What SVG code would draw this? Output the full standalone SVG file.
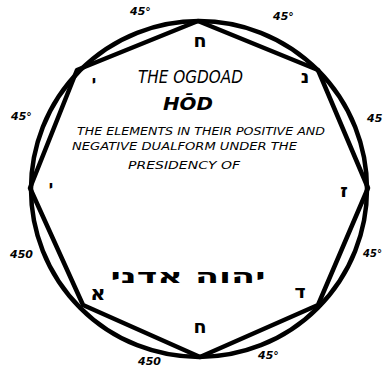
<svg xmlns="http://www.w3.org/2000/svg" width="383" height="368" viewBox="0 0 383 368">
<style>
.ln{fill:none;stroke:#000;stroke-width:4.5;stroke-linejoin:round}
.deg{font-family:"DejaVu Sans",sans-serif;font-style:italic;font-weight:bold;font-size:11px;fill:#000}
.hand{font-family:"DejaVu Sans",sans-serif;font-style:italic;fill:#000}
.heb{font-family:"DejaVu Sans","Liberation Sans",sans-serif;font-weight:bold;fill:#000}
</style>
<rect width="383" height="368" fill="#fff"/>
<g id="connectors">
<circle class="ln" cx="199" cy="189" r="168"/>
<polygon class="ln" points="198,21 318,70 368,188 318,305 200,357 83,305 30,188 77,70"/>
</g>
<g id="angles">
<text class="deg" x="130" y="15">45°</text>
<text class="deg" x="273" y="20">45°</text>
<text class="deg" x="11" y="120">45°</text>
<text class="deg" x="367" y="122">45</text>
<text class="deg" x="10" y="258">450</text>
<text class="deg" x="363" y="257" textLength="19" lengthAdjust="spacingAndGlyphs">45°</text>
<text class="deg" x="138" y="365">450</text>
<text class="deg" x="258" y="359">45°</text>
</g>
<g id="title">
<text class="hand" x="138" y="83" font-size="17" textLength="105" lengthAdjust="spacingAndGlyphs">THE OGDOAD</text>
<text class="hand" x="163" y="110" font-size="17" font-weight="bold" textLength="50" lengthAdjust="spacingAndGlyphs">HŌD</text>
<text class="hand" x="77" y="135" font-size="11" textLength="248" lengthAdjust="spacingAndGlyphs">THE ELEMENTS IN THEIR POSITIVE AND</text>
<text class="hand" x="72" y="150" font-size="11" textLength="225" lengthAdjust="spacingAndGlyphs">NEGATIVE DUALFORM UNDER THE</text>
<text class="hand" x="128" y="169" font-size="11" textLength="112" lengthAdjust="spacingAndGlyphs">PRESIDENCY OF</text>
</g>
<g id="letters">
<text class="heb" x="200" y="47" font-size="19" text-anchor="middle">ח</text>
<text class="heb" x="305" y="83" font-size="19" text-anchor="middle">נ</text>
<text class="heb" x="94" y="86" font-size="15" text-anchor="middle">י</text>
<text class="heb" x="51" y="191" font-size="15" text-anchor="middle">י</text>
<text class="heb" x="344" y="197" font-size="19" text-anchor="middle">ז</text>
<text class="heb" x="300" y="298" font-size="19" text-anchor="middle">ד</text>
<text class="heb" x="98" y="300" font-size="21" text-anchor="middle">א</text>
<text class="heb" x="200" y="333" font-size="19" text-anchor="middle">ח</text>
</g>
<g id="name">
<text class="heb" x="188" y="283" font-size="21" text-anchor="middle" direction="rtl" textLength="155" lengthAdjust="spacingAndGlyphs">יהוה אדני</text>
</g>
</svg>
